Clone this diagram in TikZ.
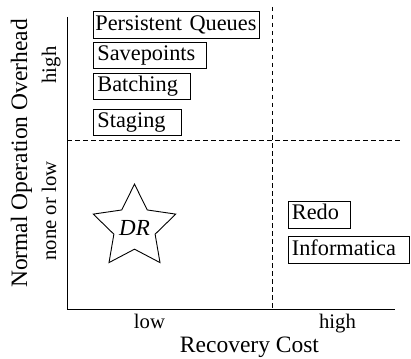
\documentclass[tikz,border=0pt]{standalone}
\usepackage{fontspec}
\setmainfont{Liberation Serif}
\usepackage{tikz}
\usetikzlibrary{shapes.geometric}

\begin{document}
\begin{tikzpicture}[x=1pt,y=-1pt,line width=0.9pt,
  every node/.style={inner sep=0pt},
  qbox/.style={draw,line width=0.8pt,anchor=west,align=left,inner xsep=4pt,inner ysep=3pt,text height=15.5pt,text depth=5pt,font=\fontsize{22.3}{27}\selectfont},
  tick/.style={anchor=base,font=\fontsize{20.7}{24}\selectfont},
  axislabel/.style={anchor=base,font=\fontsize{23.5}{28}\selectfont},
  split/.style={line width=0.8pt,dash pattern=on 4.5pt off 3.5pt}]
\useasboundingbox (0,0) rectangle (411,358);
% axes
\coordinate (origin) at (67,309);
\coordinate (ytop) at (67,17);
\coordinate (xend) at (395,309);
\draw (ytop) -- (origin) -- (xend);
% quadrant split
\coordinate (hleft) at (67,140);
\coordinate (hright) at (400,140);
\coordinate (vtop) at (272,7);
\coordinate (vbot) at (272,309);
\draw[split] (hleft) -- (hright);
\draw[split] (vtop) -- (vbot);
% axis labels
\node[axislabel] (xlabel) at (249.5,352) {Recovery Cost};
\node[axislabel,rotate=90] (ylabel) at (27,153.5) {Normal Operation Overhead};
\node[tick] (xlow) at (149.5,328) {low};
\node[tick] (xhigh) at (337.5,328) {high};
\node[tick,rotate=90] (yhigh) at (56,65) {high};
\node[tick,rotate=90] (ylow) at (56,211) {none or low};
% approaches
\node[qbox,inner xsep=2pt,text width=162pt] (pq) at (93,25) {Persistent Queues};
\node[qbox,text width=105pt] (sp) at (93,55.5) {Savepoints};
\node[qbox,text width=89pt] (bt) at (93,86.5) {Batching};
\node[qbox,text width=80pt] (st) at (93,122.5) {Staging};
\node[qbox,text width=54pt] (redo) at (287.5,214.7) {Redo};
\node[qbox,text width=113pt] (inf) at (287.5,250) {Informatica};
\node[draw,star,star points=5,star point ratio=2,minimum size=84pt,font=\fontsize{23}{27}\itshape] (dr) at (134.5,227.5) {DR};
\end{tikzpicture}
\end{document}
